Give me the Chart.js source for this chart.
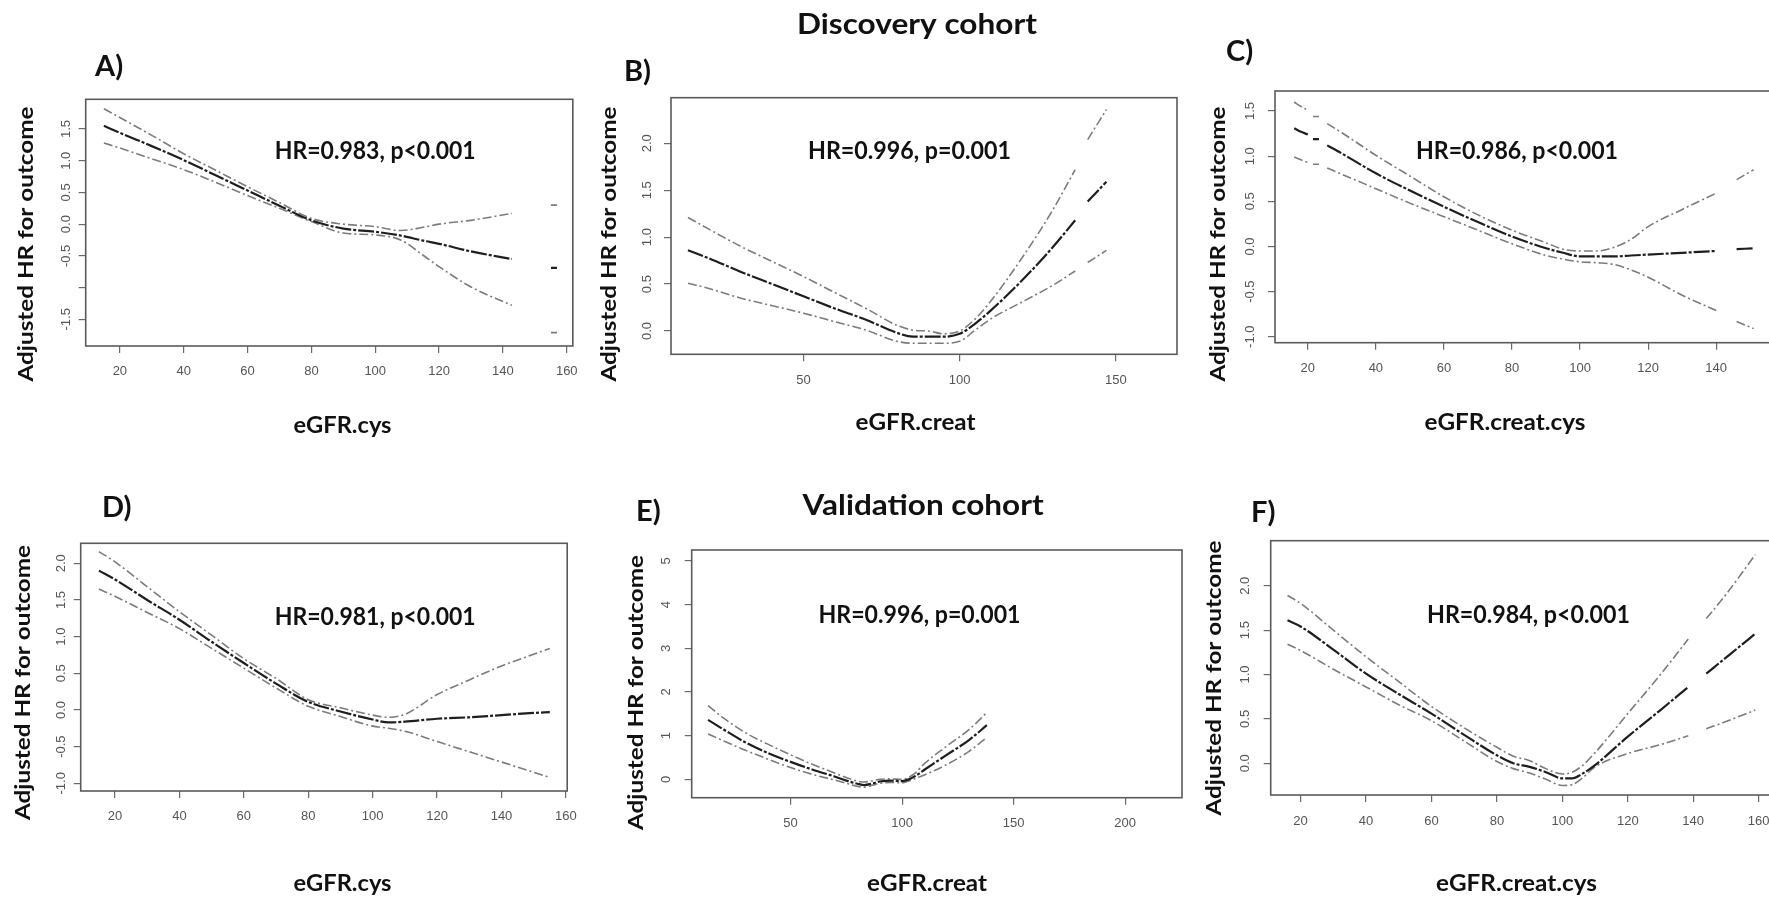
<!DOCTYPE html>
<html>
<head>
    <title>Adjusted HR vs eGFR</title>
    <meta charset="utf-8">
    <script src="https://cdn.jsdelivr.net/npm/chart.js@4.4.1/dist/chart.umd.min.js"></script>
    <style>
        html, body { margin:0; padding:0; background:#fff; overflow:hidden; }
        body { width:1769px; height:899px; position:relative; }
        canvas { position:absolute; }
    </style>
</head>
<body>
    <canvas id="cA"></canvas>
    <canvas id="cB"></canvas>
    <canvas id="cC"></canvas>
    <canvas id="cD"></canvas>
    <canvas id="cE"></canvas>
    <canvas id="cF"></canvas>

<script>
// ---- data (null = gap in the curve) ----

// A) discovery, eGFR.cys
var xA  = [15, 20, 30, 40, 50, 60, 70, 80, 90, 100, 108, 115, 120, 130, 142.8, 150, 156];
var upA = [1.82, 1.68, 1.40, 1.11, 0.85, 0.59, 0.34, 0.09, 0.00, -0.04, -0.10, -0.05, 0.00, 0.06, 0.17, null, 0.30];
var hrA = [1.55, 1.44, 1.23, 1.01, 0.77, 0.53, 0.29, 0.06, -0.07, -0.12, -0.18, -0.26, -0.31, -0.43, -0.55, null, -0.69];
var loA = [1.28, 1.20, 1.03, 0.86, 0.66, 0.45, 0.25, 0.04, -0.14, -0.17, -0.25, -0.49, -0.67, -0.99, -1.28, null, -1.71];

// B) discovery, eGFR.creat
var xB  = [13, 20, 30, 40, 50, 60, 70, 80, 85, 90, 95, 100, 105, 110, 120, 130, 137, 139, 141, 147];
var upB = [1.21, 1.08, 0.90, 0.74, 0.58, 0.41, 0.24, 0.06, 0.01, 0.00, -0.03, 0.00, 0.13, 0.32, 0.78, 1.30, 1.72, null, 2.04, 2.36];
var hrB = [0.86, 0.77, 0.63, 0.50, 0.37, 0.24, 0.12, -0.02, -0.06, -0.06, -0.06, -0.03, 0.08, 0.22, 0.54, 0.90, 1.18, null, 1.38, 1.59];
var loB = [0.51, 0.45, 0.35, 0.27, 0.19, 0.10, 0.01, -0.11, -0.13, -0.13, -0.13, -0.11, 0.01, 0.13, 0.31, 0.49, 0.64, null, 0.73, 0.86];

// C) discovery, eGFR.creat.cys
var xC  = [16, 18, 20, 21, 22.4, 24, 25.7, 30, 40, 50, 60, 70, 80, 90, 95, 100, 105, 110, 115, 120, 130, 140, 143, 146, 151];
var upC = [1.60, 1.55, 1.51, null, 1.44, null, 1.36, 1.26, 1.01, 0.78, 0.55, 0.35, 0.18, 0.04, -0.03, -0.05, -0.05, -0.01, 0.08, 0.22, 0.41, 0.59, null, 0.74, 0.85];
var hrC = [1.31, 1.27, 1.24, null, 1.19, null, 1.12, 1.03, 0.81, 0.62, 0.44, 0.27, 0.11, -0.02, -0.07, -0.11, -0.11, -0.11, -0.10, -0.09, -0.07, -0.05, null, -0.03, -0.02];
var loC = [0.99, 0.96, 0.93, null, 0.91, null, 0.87, 0.80, 0.64, 0.48, 0.33, 0.18, 0.03, -0.10, -0.14, -0.17, -0.18, -0.20, -0.26, -0.34, -0.54, -0.71, null, -0.83, -0.91];

// D) validation, eGFR.cys
var xD  = [15, 20, 30, 40, 50, 60, 70, 80, 90, 100, 105, 110, 120, 130, 140, 150, 155];
var upD = [2.16, 2.02, 1.68, 1.34, 1.02, 0.70, 0.43, 0.14, 0.03, -0.07, -0.10, -0.06, 0.21, 0.41, 0.60, 0.76, 0.84];
var hrD = [1.90, 1.78, 1.50, 1.23, 0.93, 0.64, 0.36, 0.11, -0.02, -0.13, -0.17, -0.16, -0.12, -0.10, -0.07, -0.04, -0.03];
var loD = [1.65, 1.55, 1.33, 1.11, 0.84, 0.57, 0.30, 0.05, -0.09, -0.22, -0.25, -0.29, -0.43, -0.57, -0.71, -0.85, -0.92];

// E) validation, eGFR.creat
var xE  = [13, 20, 30, 40, 50, 60, 70, 75, 80, 83, 87, 90, 95, 100, 103, 106, 110, 120, 130, 138];
var upE = [1.69, 1.40, 1.06, 0.80, 0.56, 0.34, 0.14, 0.04, -0.04, -0.06, -0.03, 0.00, 0.01, 0.00, 0.05, 0.15, 0.36, 0.76, 1.14, 1.53];
var hrE = [1.36, 1.14, 0.84, 0.60, 0.40, 0.22, 0.06, -0.03, -0.10, -0.13, -0.09, -0.05, -0.03, -0.04, 0.00, 0.08, 0.22, 0.56, 0.90, 1.24];
var loE = [1.04, 0.88, 0.66, 0.46, 0.27, 0.11, -0.02, -0.09, -0.16, -0.18, -0.13, -0.09, -0.07, -0.08, -0.04, 0.02, 0.10, 0.34, 0.64, 0.96];

// F) validation, eGFR.creat.cys
var xF  = [16, 20, 30, 40, 50, 60, 70, 80, 85, 90, 95, 100, 103, 106, 110, 120, 130, 138.5, 141, 144, 150, 159];
var upF = [1.89, 1.80, 1.50, 1.20, 0.92, 0.64, 0.40, 0.18, 0.08, 0.03, -0.06, -0.12, -0.10, -0.03, 0.12, 0.56, 1.00, 1.40, null, 1.63, 1.90, 2.35];
var hrF = [1.61, 1.54, 1.28, 1.01, 0.78, 0.56, 0.32, 0.09, 0.00, -0.04, -0.10, -0.17, -0.17, -0.12, -0.02, 0.30, 0.60, 0.86, null, 1.01, 1.19, 1.46];
var loF = [1.34, 1.27, 1.06, 0.86, 0.66, 0.48, 0.25, 0.02, -0.06, -0.11, -0.18, -0.25, -0.24, -0.17, -0.04, 0.11, 0.21, 0.31, null, 0.39, 0.47, 0.60];

// tick values and labels
var xTicks20  = [20, 40, 60, 80, 100, 120, 140, 160];
var xTicksC   = [20, 40, 60, 80, 100, 120, 140];
var xTicks50  = [50, 100, 150];
var xTicksE   = [50, 100, 150, 200];
var yTicksA   = [-1.5, -1, -0.5, 0, 0.5, 1, 1.5];
var yLabelsA  = ['-1.5', '', '-0.5', '0.0', '0.5', '1.0', '1.5'];
var yTicksB   = [0, 0.5, 1, 1.5, 2];
var yLabelsB  = ['0.0', '0.5', '1.0', '1.5', '2.0'];
var yTicksC   = [-1, -0.5, 0, 0.5, 1, 1.5];
var yLabelsC  = ['-1.0', '-0.5', '0.0', '0.5', '1.0', '1.5'];
var yTicksD   = [-1, -0.5, 0, 0.5, 1, 1.5, 2];
var yLabelsD  = ['-1.0', '-0.5', '0.0', '0.5', '1.0', '1.5', '2.0'];
var yTicksE   = [0, 1, 2, 3, 4, 5];
var yLabelsE  = ['0', '1', '2', '3', '4', '5'];

var yTitle = 'Adjusted HR for outcome';

// ---- panels: canvas place, plot box [left, top, right, bottom] in page px ----
var panels = [
    { id:'cA', left:0, top:0, w:590, h:450, box:[85.7, 99.3, 574, 346],
      xr:[9.3, 161.9], yr:[-1.921, 1.968], x:xA, up:upA, hr:hrA, lo:loA,
      xt:xTicks20, yt:yTicksA, yl:yLabelsA, yPad:1.5, xPad:12.2,
      texts:[ {text:'A)', x:95, y:76, size:29},
              {text:'HR=0.983, p<0.001', x:274.7, y:159, size:24, width:201},
              {text:'eGFR.cys', x:342.5, y:433, size:22, width:98, align:'center'},
              {text:yTitle, x:33, y:244, size:21, width:275, align:'center', rot:true} ] },
    { id:'cB', left:590, top:0, w:600, h:450, box:[671, 97.7, 1177, 354.3],
      xr:[7.57, 169.6], yr:[-0.248, 2.486], x:xB, up:upB, hr:hrB, lo:loB,
      xt:xTicks50, yt:yTicksB, yl:yLabelsB, yPad:7.7, xPad:12.2,
      texts:[ {text:'Discovery cohort', x:797, y:34, size:28, width:240},
              {text:'B)', x:624, y:81, size:29},
              {text:'HR=0.996, p=0.001', x:808, y:159, size:24, width:203},
              {text:'eGFR.creat', x:915.5, y:430, size:22, width:120, align:'center'},
              {text:yTitle, x:616, y:244, size:21, width:275, align:'center', rot:true} ] },
    { id:'cC', left:1190, top:0, w:600, h:450, box:[1275, 91, 1772, 342.7],
      xr:[10.36, 156.4], yr:[-1.066, 1.722], x:xC, up:upC, hr:hrC, lo:loC,
      xt:xTicksC, yt:yTicksC, yl:yLabelsC, yPad:6.1, xPad:12.2,
      texts:[ {text:'C)', x:1226, y:61, size:29},
              {text:'HR=0.986, p<0.001', x:1416, y:159, size:24, width:202},
              {text:'eGFR.creat.cys', x:1505, y:430, size:22, width:161, align:'center'},
              {text:yTitle, x:1225, y:244, size:21, width:275, align:'center', rot:true} ] },
    { id:'cD', left:0, top:450, w:590, h:449, box:[80.7, 543.3, 567.2, 791],
      xr:[9.35, 160.4], yr:[-1.105, 2.273], x:xD, up:upD, hr:hrD, lo:loD,
      xt:xTicks20, yt:yTicksD, yl:yLabelsD, yPad:0.8, xPad:12.2,
      texts:[ {text:'D)', x:102, y:517, size:29},
              {text:'HR=0.981, p<0.001', x:274.7, y:625, size:24, width:201},
              {text:'eGFR.cys', x:342.5, y:891, size:22, width:98, align:'center'},
              {text:yTitle, x:30, y:682.5, size:21, width:275, align:'center', rot:true} ] },
    { id:'cE', left:590, top:450, w:600, h:449, box:[691.7, 550, 1182, 797.7],
      xr:[5.66, 225.5], yr:[-0.42, 5.25], x:xE, up:upE, hr:hrE, lo:loE,
      xt:xTicksE, yt:yTicksE, yl:yLabelsE, yPad:14.4, xPad:12.2,
      texts:[ {text:'Validation cohort', x:802.6, y:515, size:28, width:241},
              {text:'E)', x:636, y:521, size:29},
              {text:'HR=0.996, p=0.001', x:818.5, y:623, size:24, width:202},
              {text:'eGFR.creat', x:927, y:891, size:22, width:120, align:'center'},
              {text:yTitle, x:643, y:692.5, size:21, width:275, align:'center', rot:true} ] },
    { id:'cF', left:1190, top:450, w:600, h:449, box:[1270.7, 540.7, 1774, 795],
      xr:[10.86, 164.7], yr:[-0.357, 2.507], x:xF, up:upF, hr:hrF, lo:loF,
      xt:xTicks20, yt:yTicksB, yl:yLabelsB, yPad:9, xPad:13,
      texts:[ {text:'F)', x:1251, y:522, size:29},
              {text:'HR=0.984, p<0.001', x:1427, y:623, size:24, width:203},
              {text:'eGFR.creat.cys', x:1516.5, y:891, size:22, width:161, align:'center'},
              {text:yTitle, x:1221, y:678, size:21, width:275, align:'center', rot:true} ] }
];

// box round the plot area, like R's box()
var boxPlugin = {
    id: 'rbox',
    afterDatasetsDraw: function(chart) {
        var a = chart.chartArea, ctx = chart.ctx;
        ctx.save();
        ctx.strokeStyle = '#5a5a5a';
        ctx.lineWidth = 1.6;
        ctx.strokeRect(a.left, a.top, a.right - a.left, a.bottom - a.top);
        ctx.restore();
    }
};

// panel letters, titles and HR note (bold, squeezed to the width seen in the figure)
var textPlugin = {
    id: 'panelText',
    afterDraw: function(chart) {
        var o = chart.options.plugins.panelText;
        var ctx = chart.ctx;
        o.items.forEach(function(it) {
            ctx.save();
            ctx.font = 'bold ' + it.size + 'px Lato, "Open Sans", sans-serif';
            ctx.fillStyle = '#111';
            ctx.textBaseline = 'alphabetic';
            ctx.textAlign = it.align || 'left';
            var m = ctx.measureText(it.text).width;
            var sx = it.width ? it.width / m : 1;
            ctx.translate(it.x - o.left, it.y - o.top);
            if (it.rot) ctx.rotate(-Math.PI / 2);
            ctx.scale(sx, 1);
            ctx.fillText(it.text, 0, 0);
            ctx.restore();
        });
    }
};

// a point with no neighbours is shown as a short dash, otherwise no marker
function lonePoint(ctx) {
    var d = ctx.dataset.data, i = ctx.dataIndex;
    if (d[i].y === null) return 0;
    var prev = d[i - 1], next = d[i + 1];
    var alone = (!prev || prev.y === null) && (!next || next.y === null);
    return alone ? 3 : 0;
}

function series(pts, color, width, dash) {
    return {
        data: pts,
        borderColor: color,
        borderWidth: width,
        borderDash: dash,
        pointRadius: lonePoint,
        pointStyle: 'line',
        pointBorderColor: color,
        pointBorderWidth: width,
        cubicInterpolationMode: 'monotone',
        spanGaps: false,
        fill: false
    };
}

var tickFont = { family: '"Liberation Sans", Arial, sans-serif', size: 13, lineHeight: 1 };

function makePanel(p) {
    var cv = document.getElementById(p.id);
    cv.width = p.w;
    cv.height = p.h;
    cv.style.left = p.left + 'px';
    cv.style.top = p.top + 'px';
    var b = p.box;
    function pts(ys) {
        return p.x.map(function(x, i) { return { x: x, y: ys[i] }; });
    }
    new Chart(cv, {
        type: 'line',
        data: { datasets: [
            series(pts(p.hr), '#1e1e1e', 2.2, [16, 2, 3, 2]),
            series(pts(p.up), '#7c7c7c', 1.6, [9, 3, 2, 3]),
            series(pts(p.lo), '#7c7c7c', 1.6, [9, 3, 2, 3])
        ] },
        options: {
            responsive: false,
            animation: false,
            devicePixelRatio: 1,
            events: [],
            layout: { padding: { left: 0, top: b[1] - p.top, right: p.left + p.w - b[2], bottom: 0 } },
            plugins: {
                legend: { display: false },
                tooltip: { enabled: false },
                panelText: { left: p.left, top: p.top, items: p.texts }
            },
            scales: {
                x: {
                    type: 'linear', min: p.xr[0], max: p.xr[1],
                    border: { display: false },
                    grid: { display: true, drawOnChartArea: false, drawTicks: true, tickLength: 7, color: '#6a6a6a', lineWidth: 1.2 },
                    ticks: { font: tickFont, color: '#555', padding: p.xPad, maxRotation: 0, autoSkip: false },
                    afterBuildTicks: function(s) { s.ticks = p.xt.map(function(v) { return { value: v }; }); },
                    afterFit: function(s) { s.height = p.top + p.h - b[3]; }
                },
                y: {
                    type: 'linear', min: p.yr[0], max: p.yr[1],
                    border: { display: false },
                    grid: { display: true, drawOnChartArea: false, drawTicks: true, tickLength: 7, color: '#6a6a6a', lineWidth: 1.2 },
                    ticks: { font: tickFont, color: '#555', padding: p.yPad, minRotation: 90, maxRotation: 90,
                             crossAlign: 'center', autoSkip: false,
                             callback: function(v, i) { return p.yl[i]; } },
                    afterBuildTicks: function(s) { s.ticks = p.yt.map(function(v) { return { value: v }; }); },
                    afterFit: function(s) { s.width = b[0] - p.left; }
                }
            }
        },
        plugins: [boxPlugin, textPlugin]
    });
}

panels.forEach(makePanel);
</script>
</body>
</html>
